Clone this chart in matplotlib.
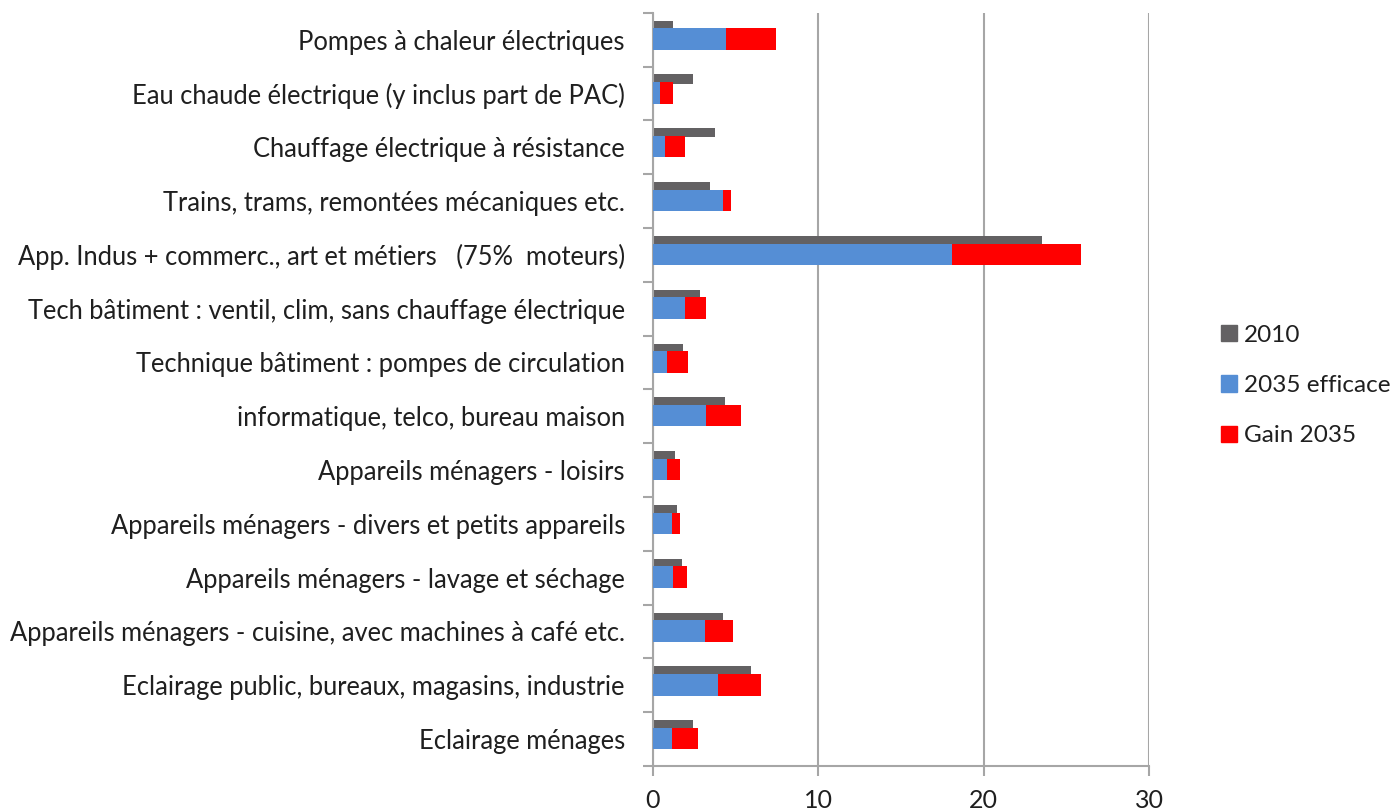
import numpy as np
import matplotlib
matplotlib.use('Agg')
import matplotlib.pyplot as plt
from matplotlib.patches import Patch

plt.rcParams['font.family'] = ['Lato', 'DejaVu Sans']

#categories, top to bottom as in the chart
categories = [
    'Pompes à chaleur électriques',
    'Eau chaude électrique (y inclus part de PAC)',
    'Chauffage électrique à résistance',
    'Trains, trams, remontées mécaniques etc.',
    'App. Indus + commerc., art et métiers   (75%  moteurs)',
    'Tech bâtiment : ventil, clim, sans chauffage électrique',
    'Technique bâtiment : pompes de circulation',
    'informatique, telco, bureau maison',
    'Appareils ménagers - loisirs',
    'Appareils ménagers - divers et petits appareils',
    'Appareils ménagers - lavage et séchage',
    'Appareils ménagers - cuisine, avec machines à café etc.',
    'Eclairage public, bureaux, magasins, industrie',
    'Eclairage ménages',
]
val2010 = [1.25, 2.45, 3.75, 3.45, 23.5, 2.85, 1.85, 4.35, 1.35, 1.45, 1.75, 4.25, 5.95, 2.45]
val2035 = [4.45, 0.45, 0.75, 4.25, 18.1, 1.95, 0.85, 3.25, 0.85, 1.15, 1.25, 3.15, 3.95, 1.15]
gain2035 = [3.0, 0.8, 1.2, 0.5, 7.8, 1.3, 1.3, 2.1, 0.8, 0.5, 0.8, 1.7, 2.6, 1.6]
xticks = [0, 10, 20, 30]

col2010 = '#636163'
col2035 = '#558ED5'
colGain = '#FF0000'
txtcol = '#1F1F1F'
gridcol = '#A6A6A6'

fig = plt.figure(figsize=(13.94, 8.10), dpi=100)
ax = fig.add_axes([0.4682, 0.0543, 0.8244 - 0.4682, 0.9843 - 0.0543])

ypos = np.arange(len(categories))
ax.barh(ypos - 0.267, val2010, height=0.17, color=col2010, zorder=2, label='2010')
ax.barh(ypos - 0.01, val2035, height=0.4, color=col2035, zorder=3, label='2035 efficace')
ax.barh(ypos - 0.01, gain2035, left=val2035, height=0.4, color=colGain, zorder=3, label='Gain 2035')

ax.set_xlim(0, 30)
ax.set_ylim(len(categories) - 0.5, -0.5)

ax.set_xticks(xticks)
ax.set_xticklabels([str(t) for t in xticks], fontsize=18, color=txtcol)
ax.tick_params(axis='x', length=7.2, width=1.5, color=gridcol, pad=9)
ax.xaxis.grid(True, color=gridcol, linewidth=1.5, zorder=0)

ax.set_yticks(ypos)
ax.set_yticklabels(categories, fontsize=18.4, color=txtcol)
ax.tick_params(axis='y', which='major', length=0, pad=20)
ax.set_yticks(np.arange(-0.5, len(categories), 1.0), minor=True)
ax.tick_params(axis='y', which='minor', length=7.2, width=1.5, color=gridcol)

for side in ['top', 'right']:
    ax.spines[side].set_visible(False)
for side in ['left', 'bottom']:
    ax.spines[side].set_color(gridcol)
    ax.spines[side].set_linewidth(1.5)
ax.set_axisbelow(True)

handles = [Patch(color=col2010), Patch(color=col2035), Patch(color=colGain)]
fig.legend(handles, ['2010', '2035 efficace', 'Gain 2035'], loc='center left',
           bbox_to_anchor=(0.876, 0.524), frameon=False, fontsize=17.5, borderpad=0,
           borderaxespad=0, handlelength=0.65, handleheight=0.65, handletextpad=0.3,
           labelspacing=1.2, labelcolor=txtcol)

fig.savefig('out.png', dpi=100)
